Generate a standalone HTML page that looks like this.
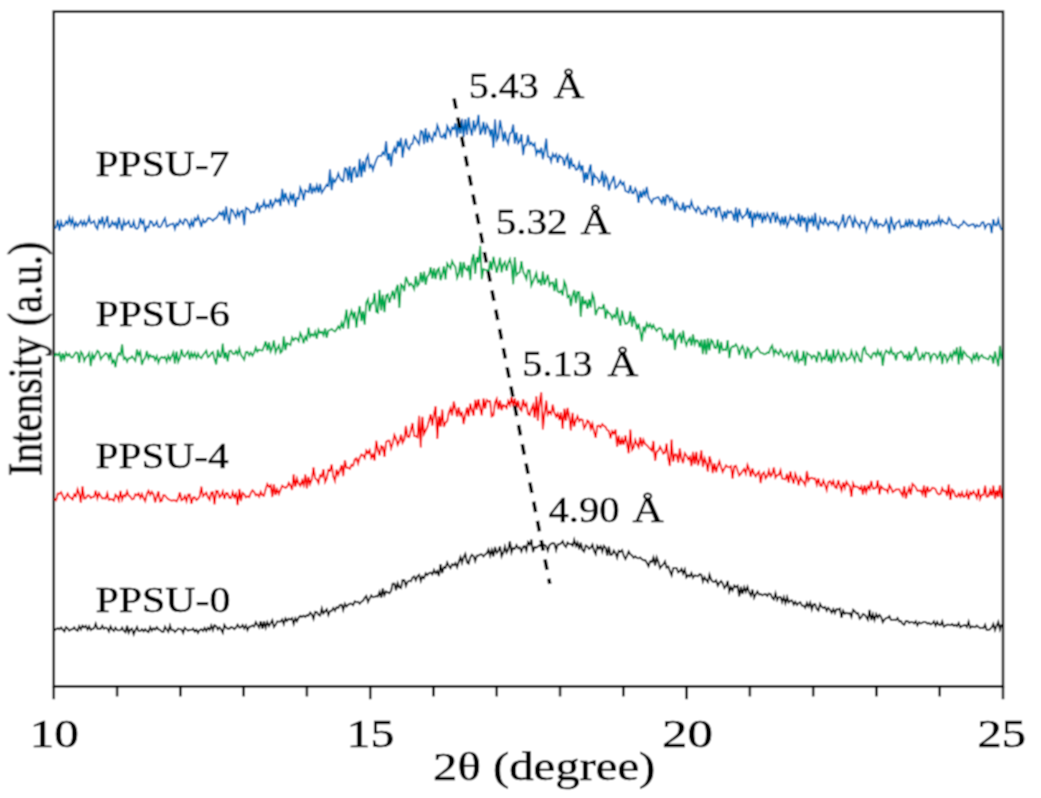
<!DOCTYPE html>
<html><head><meta charset="utf-8"><style>
html,body{margin:0;padding:0;background:#fff;}
svg{display:block;}
text{font-family:"Liberation Serif",serif;font-size:100px;fill:#000;stroke:#000;stroke-width:1.5px;}
</style></head><body>
<svg width="1041" height="798" viewBox="0 0 1041 798">
<defs><filter id="soft" x="0" y="0" width="100%" height="100%"><feConvolveMatrix order="3" kernelMatrix="1 2 1 2 4 2 1 2 1" divisor="16" edgeMode="duplicate"/></filter></defs>
<rect width="1041" height="798" fill="#fff"/>
<g filter="url(#soft)">
<rect width="1041" height="798" fill="#fff"/>
<rect x="53.8" y="11.7" width="949.2" height="674.7" fill="none" stroke="#000" stroke-width="2.5"/>
<line x1="53.80" y1="686.4" x2="53.80" y2="699.2" stroke="#000" stroke-width="2.5"/>
<line x1="117.08" y1="686.4" x2="117.08" y2="696.4" stroke="#000" stroke-width="2.5"/>
<line x1="180.36" y1="686.4" x2="180.36" y2="696.4" stroke="#000" stroke-width="2.5"/>
<line x1="243.64" y1="686.4" x2="243.64" y2="696.4" stroke="#000" stroke-width="2.5"/>
<line x1="306.92" y1="686.4" x2="306.92" y2="696.4" stroke="#000" stroke-width="2.5"/>
<line x1="370.20" y1="686.4" x2="370.20" y2="699.2" stroke="#000" stroke-width="2.5"/>
<line x1="433.48" y1="686.4" x2="433.48" y2="696.4" stroke="#000" stroke-width="2.5"/>
<line x1="496.76" y1="686.4" x2="496.76" y2="696.4" stroke="#000" stroke-width="2.5"/>
<line x1="560.04" y1="686.4" x2="560.04" y2="696.4" stroke="#000" stroke-width="2.5"/>
<line x1="623.32" y1="686.4" x2="623.32" y2="696.4" stroke="#000" stroke-width="2.5"/>
<line x1="686.60" y1="686.4" x2="686.60" y2="699.2" stroke="#000" stroke-width="2.5"/>
<line x1="749.88" y1="686.4" x2="749.88" y2="696.4" stroke="#000" stroke-width="2.5"/>
<line x1="813.16" y1="686.4" x2="813.16" y2="696.4" stroke="#000" stroke-width="2.5"/>
<line x1="876.44" y1="686.4" x2="876.44" y2="696.4" stroke="#000" stroke-width="2.5"/>
<line x1="939.72" y1="686.4" x2="939.72" y2="696.4" stroke="#000" stroke-width="2.5"/>
<line x1="1003.00" y1="686.4" x2="1003.00" y2="699.2" stroke="#000" stroke-width="2.5"/>
<path d="M54.5,630.7 L56.1,629.1 L57.8,628.3 L59.4,629.2 L61.1,627.4 L62.7,629.6 L64.4,631.5 L66.0,627.1 L67.7,628.4 L69.3,630.7 L71.0,629.5 L72.6,629.2 L74.3,627.4 L75.9,629.9 L77.6,630.9 L79.2,626.4 L80.9,629.4 L82.5,625.7 L84.2,627.4 L85.8,625.9 L87.5,629.5 L89.1,626.4 L90.8,630.0 L92.4,628.9 L94.1,628.2 L95.7,623.7 L97.4,628.7 L99.0,628.6 L100.7,628.8 L102.3,625.7 L104.0,628.9 L105.6,627.6 L107.3,628.5 L108.9,631.4 L110.6,626.4 L112.2,629.4 L113.9,630.9 L115.5,627.6 L117.2,630.2 L118.8,630.4 L120.5,630.2 L122.1,627.7 L123.8,630.7 L125.4,632.2 L127.1,625.8 L128.7,632.8 L130.4,629.5 L132.0,628.7 L133.7,634.4 L135.3,630.3 L137.0,627.0 L138.6,631.1 L140.3,631.1 L141.9,629.2 L143.6,631.2 L145.2,629.3 L146.9,631.2 L148.5,632.1 L150.2,627.3 L151.8,630.6 L153.5,628.4 L155.1,629.6 L156.8,627.1 L158.4,629.4 L160.1,629.8 L161.7,631.7 L163.4,631.9 L165.0,626.7 L166.7,629.5 L168.3,631.8 L170.0,625.5 L171.6,630.2 L173.3,629.8 L174.9,632.1 L176.6,630.3 L178.2,628.6 L179.9,629.2 L181.5,629.5 L183.2,632.9 L184.8,627.7 L186.5,629.4 L188.1,630.7 L189.8,629.8 L191.4,630.1 L193.1,628.5 L194.7,631.4 L196.4,629.8 L198.0,632.8 L199.7,630.1 L201.3,629.1 L203.0,630.9 L204.6,628.0 L206.3,631.0 L207.9,627.9 L209.6,629.8 L211.2,625.4 L212.9,630.0 L214.5,625.1 L216.2,626.1 L217.8,629.5 L219.5,627.3 L221.1,629.5 L222.8,632.7 L224.4,624.9 L226.1,627.5 L227.7,628.8 L229.4,628.7 L231.0,627.1 L232.7,627.5 L234.3,629.1 L236.0,627.7 L237.6,624.6 L239.3,627.4 L240.9,627.3 L242.6,625.0 L244.2,628.5 L245.9,625.5 L247.5,630.2 L249.2,626.7 L250.8,626.6 L252.5,625.4 L254.1,626.6 L255.8,622.1 L257.4,624.8 L259.1,627.5 L260.7,621.3 L262.4,628.8 L264.0,621.3 L265.7,627.7 L267.3,622.2 L269.0,626.0 L270.6,623.3 L272.3,620.1 L273.9,627.0 L275.6,624.8 L277.2,621.4 L278.9,621.6 L280.5,621.5 L282.2,619.4 L283.8,624.2 L285.5,618.5 L287.1,620.8 L288.8,618.7 L290.4,619.6 L292.1,618.2 L293.7,624.1 L295.4,618.4 L297.0,621.2 L298.7,617.6 L300.3,615.9 L302.0,616.8 L303.6,615.7 L305.3,616.9 L306.9,615.2 L308.6,615.4 L310.2,612.6 L311.9,614.5 L313.5,618.9 L315.2,611.8 L316.8,612.1 L318.5,614.7 L320.1,615.6 L321.8,608.4 L323.4,613.4 L325.1,611.4 L326.7,609.3 L328.4,615.0 L330.0,610.9 L331.7,610.8 L333.3,608.1 L335.0,610.7 L336.6,607.2 L338.3,608.0 L339.9,605.0 L341.6,604.8 L343.2,610.1 L344.9,603.8 L346.5,606.7 L348.2,604.7 L349.8,603.8 L351.5,603.7 L353.1,605.1 L354.8,601.4 L356.4,602.2 L358.1,601.9 L359.7,603.8 L361.4,601.7 L363.0,600.7 L364.7,597.9 L366.3,596.0 L368.0,601.9 L369.6,598.7 L371.3,595.4 L372.9,597.3 L374.6,596.9 L376.2,596.0 L377.9,596.4 L379.5,592.1 L381.2,597.8 L382.8,588.4 L384.5,595.1 L386.1,591.6 L387.8,592.4 L389.4,593.3 L391.1,590.8 L392.7,583.6 L394.4,583.6 L396.0,590.2 L397.7,583.2 L399.3,587.2 L401.0,588.1 L402.6,580.1 L404.3,580.2 L405.9,585.8 L407.6,581.8 L409.2,580.7 L410.9,581.3 L412.5,577.7 L414.2,576.5 L415.8,580.3 L417.5,576.2 L419.1,574.7 L420.8,581.1 L422.4,576.7 L424.1,578.2 L425.7,573.3 L427.4,575.0 L429.0,573.0 L430.7,572.6 L432.3,574.5 L434.0,569.9 L435.6,573.3 L437.3,571.1 L438.9,576.0 L440.6,564.2 L442.2,573.1 L443.9,567.0 L445.5,567.8 L447.2,562.6 L448.8,566.0 L450.5,568.1 L452.1,564.3 L453.8,565.2 L455.4,563.2 L457.1,567.3 L458.7,562.1 L460.4,557.2 L462.0,562.8 L463.7,557.0 L465.3,553.8 L467.0,562.5 L468.6,563.6 L470.3,557.5 L471.9,554.8 L473.6,556.2 L475.2,561.1 L476.9,555.7 L478.5,555.5 L480.2,554.4 L481.8,554.4 L483.5,556.5 L485.1,554.5 L486.8,553.4 L488.4,549.7 L490.1,555.7 L491.7,550.0 L493.4,556.4 L495.0,547.0 L496.7,552.9 L498.3,551.3 L500.0,546.3 L501.6,556.5 L503.3,552.7 L504.9,546.6 L506.6,552.6 L508.2,549.9 L509.9,541.2 L511.5,552.4 L513.2,548.0 L514.8,548.8 L516.5,545.1 L518.1,548.2 L519.8,547.5 L521.4,551.6 L523.1,546.8 L524.7,546.1 L526.4,550.7 L528.0,542.2 L529.7,544.7 L531.3,539.5 L533.0,552.2 L534.6,547.0 L536.3,547.7 L537.9,546.5 L539.6,545.1 L541.2,546.2 L542.9,544.6 L544.5,545.0 L546.2,546.1 L547.8,550.7 L549.5,545.1 L551.1,543.9 L552.8,543.0 L554.4,543.5 L556.1,550.1 L557.7,544.5 L559.4,544.3 L561.0,543.4 L562.7,541.2 L564.3,545.2 L566.0,547.0 L567.6,542.4 L569.3,544.1 L570.9,544.0 L572.6,545.7 L574.2,539.8 L575.9,545.9 L577.5,542.6 L579.2,549.3 L580.8,542.8 L582.5,550.0 L584.1,551.6 L585.8,545.5 L587.4,546.5 L589.1,548.9 L590.7,547.6 L592.4,544.6 L594.0,550.6 L595.7,554.1 L597.3,546.0 L599.0,548.5 L600.6,546.3 L602.3,551.6 L603.9,545.8 L605.6,547.9 L607.2,555.5 L608.9,546.6 L610.5,554.8 L612.2,554.4 L613.8,550.6 L615.5,553.2 L617.1,557.7 L618.8,550.9 L620.4,552.0 L622.1,550.1 L623.7,555.5 L625.4,559.1 L627.0,555.8 L628.7,551.5 L630.3,554.2 L632.0,555.4 L633.6,557.9 L635.3,556.4 L636.9,557.9 L638.6,558.3 L640.2,557.5 L641.9,559.3 L643.5,560.2 L645.2,560.0 L646.8,562.8 L648.5,566.3 L650.1,561.4 L651.8,561.8 L653.4,557.5 L655.1,565.5 L656.7,557.3 L658.4,561.7 L660.0,568.1 L661.7,565.9 L663.3,564.5 L665.0,561.5 L666.6,567.6 L668.3,566.4 L669.9,571.2 L671.6,575.4 L673.2,568.3 L674.9,568.0 L676.5,568.0 L678.2,572.3 L679.8,571.3 L681.5,568.9 L683.1,573.5 L684.8,569.5 L686.4,577.3 L688.1,575.3 L689.7,576.4 L691.4,573.0 L693.0,577.7 L694.7,575.3 L696.3,575.8 L698.0,576.1 L699.6,574.1 L701.3,574.7 L702.9,581.6 L704.6,577.1 L706.2,579.9 L707.9,582.1 L709.5,574.6 L711.2,579.7 L712.8,581.6 L714.5,582.0 L716.1,580.3 L717.8,585.6 L719.4,582.9 L721.1,581.0 L722.7,583.5 L724.4,588.1 L726.0,586.1 L727.7,581.0 L729.3,591.6 L731.0,587.2 L732.6,590.3 L734.3,585.5 L735.9,587.3 L737.6,585.9 L739.2,596.3 L740.9,586.8 L742.5,593.9 L744.2,587.5 L745.8,591.8 L747.5,586.9 L749.1,592.5 L750.8,595.5 L752.4,589.6 L754.1,597.8 L755.7,594.4 L757.4,591.5 L759.0,594.4 L760.7,594.1 L762.3,595.3 L764.0,594.3 L765.6,594.1 L767.3,595.9 L768.9,593.6 L770.6,594.1 L772.2,597.6 L773.9,599.4 L775.5,593.3 L777.2,599.9 L778.8,597.1 L780.5,597.0 L782.1,602.0 L783.8,597.2 L785.4,603.2 L787.1,597.2 L788.7,602.4 L790.4,600.7 L792.0,600.5 L793.7,604.7 L795.3,601.9 L797.0,604.8 L798.6,603.0 L800.3,602.2 L801.9,605.6 L803.6,605.6 L805.2,607.8 L806.9,603.1 L808.5,606.5 L810.2,602.5 L811.8,609.5 L813.5,604.6 L815.1,604.1 L816.8,609.0 L818.4,610.6 L820.1,604.0 L821.7,606.9 L823.4,608.0 L825.0,607.0 L826.7,610.8 L828.3,607.9 L830.0,609.7 L831.6,612.7 L833.3,609.1 L834.9,613.0 L836.6,609.0 L838.2,609.4 L839.9,608.6 L841.5,617.8 L843.2,610.8 L844.8,613.7 L846.5,612.9 L848.1,613.6 L849.8,613.2 L851.4,617.0 L853.1,609.7 L854.7,611.2 L856.4,613.4 L858.0,613.1 L859.7,618.7 L861.3,617.2 L863.0,613.9 L864.6,614.7 L866.3,617.0 L867.9,619.8 L869.6,610.0 L871.2,620.0 L872.9,614.4 L874.5,620.0 L876.2,614.2 L877.8,617.6 L879.5,614.9 L881.1,616.9 L882.8,622.2 L884.4,619.7 L886.1,618.1 L887.7,617.8 L889.4,616.2 L891.0,620.1 L892.7,620.0 L894.3,619.7 L896.0,620.2 L897.6,618.1 L899.3,621.5 L900.9,621.1 L902.6,623.8 L904.2,624.8 L905.9,621.0 L907.5,620.9 L909.2,622.9 L910.8,622.1 L912.5,622.1 L914.1,623.4 L915.8,621.3 L917.4,625.4 L919.1,622.4 L920.7,623.5 L922.4,622.7 L924.0,622.0 L925.7,622.1 L927.3,623.7 L929.0,622.8 L930.6,624.4 L932.3,623.5 L933.9,621.4 L935.6,625.6 L937.2,622.0 L938.9,624.8 L940.5,625.1 L942.2,621.2 L943.8,626.8 L945.5,625.6 L947.1,624.8 L948.8,624.8 L950.4,625.2 L952.1,624.0 L953.7,625.7 L955.4,624.8 L957.0,626.2 L958.7,623.1 L960.3,627.3 L962.0,626.2 L963.6,625.4 L965.3,625.0 L966.9,627.0 L968.6,621.7 L970.2,627.9 L971.9,626.6 L973.5,626.8 L975.2,627.2 L976.8,625.5 L978.5,626.9 L980.1,628.3 L981.8,627.8 L983.4,628.1 L985.1,624.8 L986.7,630.1 L988.4,630.0 L990.0,629.2 L991.7,627.3 L993.3,623.9 L995.0,630.0 L996.6,625.9 L998.3,621.9 L999.9,629.4 L1001.6,624.3" fill="none" stroke="#000000" stroke-width="1.9" stroke-linejoin="miter" stroke-miterlimit="4"/>
<path d="M54.5,498.6 L56.1,500.2 L57.8,493.7 L59.4,494.0 L61.1,492.2 L62.7,495.8 L64.4,499.7 L66.0,496.8 L67.7,493.5 L69.3,496.8 L71.0,498.0 L72.6,499.5 L74.3,494.4 L75.9,496.2 L77.6,489.3 L79.2,493.6 L80.9,502.9 L82.5,486.4 L84.2,498.4 L85.8,498.3 L87.5,495.4 L89.1,495.4 L90.8,498.1 L92.4,496.9 L94.1,496.9 L95.7,490.7 L97.4,498.4 L99.0,493.3 L100.7,496.0 L102.3,498.4 L104.0,498.1 L105.6,498.6 L107.3,493.2 L108.9,499.9 L110.6,499.0 L112.2,499.4 L113.9,500.7 L115.5,494.6 L117.2,496.5 L118.8,500.4 L120.5,491.0 L122.1,499.6 L123.8,495.3 L125.4,496.4 L127.1,491.3 L128.7,495.6 L130.4,496.6 L132.0,499.4 L133.7,498.7 L135.3,494.3 L137.0,495.2 L138.6,493.3 L140.3,497.9 L141.9,494.1 L143.6,498.3 L145.2,501.1 L146.9,493.9 L148.5,490.8 L150.2,494.8 L151.8,491.9 L153.5,494.4 L155.1,502.4 L156.8,496.3 L158.4,491.4 L160.1,501.4 L161.7,500.9 L163.4,495.3 L165.0,495.4 L166.7,497.7 L168.3,499.2 L170.0,500.0 L171.6,500.8 L173.3,500.2 L174.9,500.4 L176.6,501.4 L178.2,498.3 L179.9,492.2 L181.5,500.2 L183.2,499.2 L184.8,496.2 L186.5,501.3 L188.1,494.7 L189.8,494.5 L191.4,503.8 L193.1,497.5 L194.7,497.3 L196.4,500.0 L198.0,498.8 L199.7,496.4 L201.3,486.6 L203.0,496.3 L204.6,494.7 L206.3,492.6 L207.9,497.4 L209.6,499.7 L211.2,492.7 L212.9,492.4 L214.5,504.5 L216.2,490.8 L217.8,491.0 L219.5,497.2 L221.1,495.6 L222.8,491.4 L224.4,498.9 L226.1,493.0 L227.7,493.3 L229.4,497.9 L231.0,498.2 L232.7,492.1 L234.3,497.1 L236.0,494.0 L237.6,505.1 L239.3,489.0 L240.9,501.0 L242.6,493.0 L244.2,494.2 L245.9,497.3 L247.5,496.3 L249.2,497.1 L250.8,493.0 L252.5,490.2 L254.1,491.8 L255.8,495.3 L257.4,494.2 L259.1,496.6 L260.7,491.7 L262.4,495.2 L264.0,495.7 L265.7,489.0 L267.3,484.0 L269.0,487.0 L270.6,485.3 L272.3,497.0 L273.9,484.2 L275.6,494.9 L277.2,489.6 L278.9,493.9 L280.5,489.9 L282.2,485.7 L283.8,487.0 L285.5,487.8 L287.1,486.8 L288.8,482.9 L290.4,485.5 L292.1,489.8 L293.7,474.3 L295.4,486.6 L297.0,478.7 L298.7,483.8 L300.3,485.8 L302.0,480.7 L303.6,485.0 L305.3,474.5 L306.9,488.4 L308.6,477.0 L310.2,483.7 L311.9,479.3 L313.5,467.5 L315.2,478.5 L316.8,479.5 L318.5,483.1 L320.1,475.4 L321.8,476.5 L323.4,469.1 L325.1,482.0 L326.7,478.6 L328.4,470.0 L330.0,470.8 L331.7,464.5 L333.3,476.6 L335.0,481.0 L336.6,469.7 L338.3,474.8 L339.9,470.2 L341.6,465.1 L343.2,476.2 L344.9,460.2 L346.5,467.8 L348.2,467.8 L349.8,468.8 L351.5,464.9 L353.1,465.7 L354.8,459.4 L356.4,458.2 L358.1,463.4 L359.7,457.8 L361.4,454.5 L363.0,455.2 L364.7,458.0 L366.3,450.6 L368.0,453.1 L369.6,450.2 L371.3,457.7 L372.9,454.7 L374.6,460.5 L376.2,440.8 L377.9,449.5 L379.5,455.3 L381.2,446.1 L382.8,446.8 L384.5,456.8 L386.1,442.1 L387.8,440.8 L389.4,440.7 L391.1,448.2 L392.7,443.3 L394.4,435.0 L396.0,438.4 L397.7,445.0 L399.3,441.5 L401.0,434.8 L402.6,442.7 L404.3,439.7 L405.9,425.8 L407.6,436.8 L409.2,437.2 L410.9,429.7 L412.5,423.0 L414.2,435.9 L415.8,436.2 L417.5,437.3 L419.1,415.7 L420.8,447.4 L422.4,416.8 L424.1,433.9 L425.7,430.6 L427.4,426.9 L429.0,420.4 L430.7,414.3 L432.3,425.7 L434.0,413.8 L435.6,406.2 L437.3,438.9 L438.9,416.1 L440.6,426.6 L442.2,409.5 L443.9,426.8 L445.5,422.7 L447.2,421.3 L448.8,412.5 L450.5,408.3 L452.1,415.5 L453.8,401.5 L455.4,408.6 L457.1,416.8 L458.7,407.3 L460.4,415.1 L462.0,413.1 L463.7,424.0 L465.3,415.0 L467.0,407.4 L468.6,416.3 L470.3,403.7 L471.9,410.1 L473.6,415.7 L475.2,399.9 L476.9,409.5 L478.5,399.1 L480.2,408.7 L481.8,415.3 L483.5,398.5 L485.1,408.7 L486.8,400.0 L488.4,401.5 L490.1,401.1 L491.7,416.4 L493.4,415.5 L495.0,402.5 L496.7,399.0 L498.3,409.2 L500.0,400.3 L501.6,410.2 L503.3,405.0 L504.9,405.8 L506.6,408.0 L508.2,401.1 L509.9,404.9 L511.5,397.2 L513.2,406.4 L514.8,398.2 L516.5,407.7 L518.1,400.8 L519.8,408.9 L521.4,410.6 L523.1,399.3 L524.7,406.3 L526.4,403.6 L528.0,414.1 L529.7,415.0 L531.3,409.2 L533.0,405.1 L534.6,417.7 L536.3,396.2 L537.9,421.0 L539.6,401.9 L541.2,392.4 L542.9,429.4 L544.5,413.6 L546.2,400.7 L547.8,414.6 L549.5,411.8 L551.1,414.0 L552.8,404.7 L554.4,412.6 L556.1,416.5 L557.7,413.5 L559.4,420.1 L561.0,412.1 L562.7,429.0 L564.3,408.7 L566.0,420.8 L567.6,407.9 L569.3,416.8 L570.9,430.4 L572.6,412.9 L574.2,426.5 L575.9,420.3 L577.5,416.2 L579.2,421.1 L580.8,419.3 L582.5,419.7 L584.1,428.2 L585.8,425.7 L587.4,420.5 L589.1,421.7 L590.7,428.7 L592.4,423.7 L594.0,431.5 L595.7,437.8 L597.3,426.0 L599.0,425.6 L600.6,427.4 L602.3,424.1 L603.9,425.9 L605.6,427.0 L607.2,430.3 L608.9,430.7 L610.5,438.2 L612.2,431.2 L613.8,433.5 L615.5,429.6 L617.1,446.8 L618.8,435.7 L620.4,444.9 L622.1,439.2 L623.7,444.7 L625.4,435.3 L627.0,444.0 L628.7,453.3 L630.3,429.6 L632.0,449.8 L633.6,447.6 L635.3,440.1 L636.9,444.3 L638.6,447.3 L640.2,437.2 L641.9,446.6 L643.5,439.9 L645.2,444.0 L646.8,445.2 L648.5,447.1 L650.1,448.9 L651.8,450.7 L653.4,441.0 L655.1,460.9 L656.7,451.6 L658.4,450.5 L660.0,446.7 L661.7,449.9 L663.3,453.6 L665.0,452.7 L666.6,443.7 L668.3,458.5 L669.9,466.0 L671.6,439.6 L673.2,461.6 L674.9,454.5 L676.5,454.4 L678.2,462.6 L679.8,448.4 L681.5,458.5 L683.1,463.1 L684.8,453.2 L686.4,455.4 L688.1,459.1 L689.7,457.0 L691.4,466.2 L693.0,451.9 L694.7,464.2 L696.3,451.8 L698.0,465.3 L699.6,460.0 L701.3,450.3 L702.9,467.0 L704.6,458.1 L706.2,462.3 L707.9,471.6 L709.5,456.3 L711.2,461.9 L712.8,473.0 L714.5,463.3 L716.1,472.2 L717.8,465.5 L719.4,461.3 L721.1,467.4 L722.7,472.0 L724.4,468.6 L726.0,465.4 L727.7,467.2 L729.3,467.3 L731.0,466.2 L732.6,478.7 L734.3,466.4 L735.9,465.8 L737.6,470.7 L739.2,475.5 L740.9,473.6 L742.5,471.1 L744.2,469.0 L745.8,473.5 L747.5,464.9 L749.1,469.1 L750.8,476.9 L752.4,468.5 L754.1,473.8 L755.7,476.3 L757.4,473.2 L759.0,471.5 L760.7,483.0 L762.3,474.2 L764.0,472.4 L765.6,478.4 L767.3,476.0 L768.9,470.4 L770.6,476.2 L772.2,474.2 L773.9,467.4 L775.5,477.6 L777.2,475.1 L778.8,474.8 L780.5,470.3 L782.1,478.5 L783.8,478.9 L785.4,479.3 L787.1,473.9 L788.7,482.7 L790.4,471.4 L792.0,478.5 L793.7,483.5 L795.3,473.9 L797.0,478.0 L798.6,485.2 L800.3,477.4 L801.9,480.1 L803.6,482.2 L805.2,485.0 L806.9,471.0 L808.5,480.6 L810.2,478.0 L811.8,477.7 L813.5,478.8 L815.1,478.6 L816.8,484.7 L818.4,478.5 L820.1,485.4 L821.7,485.9 L823.4,480.5 L825.0,484.8 L826.7,490.1 L828.3,482.3 L830.0,481.1 L831.6,484.6 L833.3,480.8 L834.9,487.1 L836.6,488.1 L838.2,480.1 L839.9,486.0 L841.5,490.5 L843.2,482.5 L844.8,488.0 L846.5,481.7 L848.1,484.5 L849.8,486.4 L851.4,496.8 L853.1,483.4 L854.7,486.8 L856.4,486.4 L858.0,487.1 L859.7,489.3 L861.3,486.5 L863.0,494.7 L864.6,485.3 L866.3,492.2 L867.9,486.4 L869.6,489.0 L871.2,480.9 L872.9,488.6 L874.5,488.5 L876.2,487.6 L877.8,480.3 L879.5,494.4 L881.1,486.4 L882.8,488.1 L884.4,489.5 L886.1,489.6 L887.7,492.2 L889.4,485.1 L891.0,487.7 L892.7,492.3 L894.3,491.0 L896.0,489.5 L897.6,489.4 L899.3,489.4 L900.9,492.8 L902.6,495.7 L904.2,486.2 L905.9,498.5 L907.5,492.2 L909.2,487.8 L910.8,494.5 L912.5,483.9 L914.1,485.5 L915.8,487.5 L917.4,490.8 L919.1,490.8 L920.7,490.6 L922.4,494.2 L924.0,485.3 L925.7,497.6 L927.3,486.6 L929.0,491.4 L930.6,490.6 L932.3,487.8 L933.9,488.0 L935.6,489.3 L937.2,493.1 L938.9,494.4 L940.5,493.9 L942.2,488.3 L943.8,491.4 L945.5,490.7 L947.1,496.0 L948.8,484.5 L950.4,499.8 L952.1,489.6 L953.7,491.0 L955.4,496.1 L957.0,496.9 L958.7,493.6 L960.3,496.7 L962.0,492.4 L963.6,497.0 L965.3,496.2 L966.9,491.7 L968.6,499.3 L970.2,492.3 L971.9,494.3 L973.5,491.2 L975.2,494.4 L976.8,497.8 L978.5,489.0 L980.1,498.9 L981.8,494.9 L983.4,495.0 L985.1,485.7 L986.7,496.6 L988.4,496.4 L990.0,490.5 L991.7,495.7 L993.3,485.6 L995.0,499.0 L996.6,490.2 L998.3,496.9 L999.9,485.2 L1001.6,498.5" fill="none" stroke="#f80000" stroke-width="1.9" stroke-linejoin="miter" stroke-miterlimit="4"/>
<path d="M54.5,356.5 L56.1,353.7 L57.8,355.3 L59.4,353.1 L61.1,361.8 L62.7,353.2 L64.4,358.9 L66.0,352.9 L67.7,355.8 L69.3,353.9 L71.0,357.3 L72.6,357.5 L74.3,354.7 L75.9,352.4 L77.6,352.9 L79.2,362.9 L80.9,351.8 L82.5,353.9 L84.2,360.9 L85.8,357.3 L87.5,355.9 L89.1,353.0 L90.8,366.1 L92.4,354.3 L94.1,358.3 L95.7,354.7 L97.4,350.8 L99.0,352.1 L100.7,359.3 L102.3,356.9 L104.0,355.4 L105.6,353.2 L107.3,354.0 L108.9,358.6 L110.6,352.3 L112.2,362.7 L113.9,360.5 L115.5,367.2 L117.2,356.8 L118.8,353.3 L120.5,354.8 L122.1,344.4 L123.8,359.1 L125.4,357.6 L127.1,361.7 L128.7,358.2 L130.4,358.3 L132.0,356.3 L133.7,358.5 L135.3,360.8 L137.0,349.5 L138.6,355.4 L140.3,351.8 L141.9,364.9 L143.6,359.9 L145.2,357.8 L146.9,351.0 L148.5,358.4 L150.2,355.0 L151.8,357.0 L153.5,356.1 L155.1,360.1 L156.8,356.2 L158.4,362.7 L160.1,358.4 L161.7,357.0 L163.4,358.1 L165.0,356.8 L166.7,361.6 L168.3,355.8 L170.0,359.8 L171.6,356.3 L173.3,352.6 L174.9,363.7 L176.6,351.7 L178.2,361.8 L179.9,358.1 L181.5,349.4 L183.2,355.7 L184.8,356.7 L186.5,353.5 L188.1,351.5 L189.8,359.6 L191.4,352.9 L193.1,356.8 L194.7,353.2 L196.4,358.2 L198.0,353.6 L199.7,357.1 L201.3,358.3 L203.0,355.0 L204.6,353.1 L206.3,350.8 L207.9,357.3 L209.6,356.2 L211.2,353.2 L212.9,352.1 L214.5,358.9 L216.2,364.5 L217.8,349.8 L219.5,356.8 L221.1,356.4 L222.8,343.6 L224.4,358.5 L226.1,352.2 L227.7,361.3 L229.4,350.9 L231.0,350.5 L232.7,353.7 L234.3,354.1 L236.0,351.0 L237.6,354.3 L239.3,348.6 L240.9,354.9 L242.6,357.3 L244.2,359.8 L245.9,352.0 L247.5,351.7 L249.2,355.3 L250.8,352.6 L252.5,355.8 L254.1,352.6 L255.8,347.6 L257.4,351.7 L259.1,349.7 L260.7,350.4 L262.4,350.5 L264.0,346.4 L265.7,341.3 L267.3,350.3 L269.0,342.4 L270.6,351.6 L272.3,347.9 L273.9,340.4 L275.6,352.5 L277.2,348.7 L278.9,345.5 L280.5,352.8 L282.2,351.0 L283.8,336.4 L285.5,350.1 L287.1,343.3 L288.8,343.8 L290.4,345.1 L292.1,337.5 L293.7,340.3 L295.4,338.0 L297.0,338.7 L298.7,341.2 L300.3,333.1 L302.0,336.5 L303.6,343.3 L305.3,336.9 L306.9,339.5 L308.6,327.7 L310.2,336.6 L311.9,334.2 L313.5,335.9 L315.2,331.9 L316.8,338.8 L318.5,329.7 L320.1,332.9 L321.8,331.9 L323.4,335.2 L325.1,328.5 L326.7,337.9 L328.4,330.7 L330.0,330.0 L331.7,328.9 L333.3,330.6 L335.0,331.5 L336.6,329.4 L338.3,326.3 L339.9,328.8 L341.6,322.7 L343.2,328.5 L344.9,319.4 L346.5,309.6 L348.2,328.9 L349.8,315.9 L351.5,310.9 L353.1,317.2 L354.8,311.9 L356.4,327.7 L358.1,314.6 L359.7,306.0 L361.4,321.1 L363.0,311.4 L364.7,324.6 L366.3,302.6 L368.0,299.4 L369.6,311.3 L371.3,303.5 L372.9,303.6 L374.6,293.0 L376.2,311.6 L377.9,312.6 L379.5,289.9 L381.2,310.5 L382.8,294.8 L384.5,312.2 L386.1,295.5 L387.8,294.4 L389.4,302.7 L391.1,296.4 L392.7,290.8 L394.4,299.4 L396.0,289.4 L397.7,284.7 L399.3,307.9 L401.0,284.5 L402.6,285.8 L404.3,291.1 L405.9,276.9 L407.6,281.2 L409.2,285.4 L410.9,283.5 L412.5,285.5 L414.2,289.1 L415.8,276.1 L417.5,285.8 L419.1,283.8 L420.8,272.1 L422.4,282.4 L424.1,271.6 L425.7,284.9 L427.4,276.4 L429.0,274.5 L430.7,267.1 L432.3,278.6 L434.0,268.2 L435.6,279.0 L437.3,270.3 L438.9,268.5 L440.6,280.1 L442.2,275.0 L443.9,266.3 L445.5,279.5 L447.2,263.5 L448.8,266.1 L450.5,268.5 L452.1,261.1 L453.8,264.7 L455.4,266.8 L457.1,277.9 L458.7,273.7 L460.4,261.8 L462.0,277.5 L463.7,262.0 L465.3,268.2 L467.0,270.1 L468.6,265.2 L470.3,280.1 L471.9,259.8 L473.6,254.1 L475.2,274.0 L476.9,257.0 L478.5,262.7 L480.2,245.8 L481.8,279.1 L483.5,269.2 L485.1,269.9 L486.8,269.9 L488.4,274.1 L490.1,260.9 L491.7,270.1 L493.4,256.8 L495.0,264.3 L496.7,272.7 L498.3,266.6 L500.0,257.6 L501.6,272.3 L503.3,264.6 L504.9,262.0 L506.6,270.9 L508.2,263.3 L509.9,259.2 L511.5,265.7 L513.2,284.3 L514.8,257.1 L516.5,275.1 L518.1,273.2 L519.8,272.2 L521.4,261.1 L523.1,271.6 L524.7,274.9 L526.4,279.1 L528.0,270.2 L529.7,270.3 L531.3,285.6 L533.0,281.7 L534.6,277.6 L536.3,273.0 L537.9,282.1 L539.6,280.2 L541.2,285.6 L542.9,271.3 L544.5,284.8 L546.2,279.9 L547.8,274.7 L549.5,285.5 L551.1,282.7 L552.8,282.5 L554.4,291.2 L556.1,278.4 L557.7,291.5 L559.4,292.5 L561.0,290.7 L562.7,295.3 L564.3,281.7 L566.0,285.6 L567.6,297.2 L569.3,295.7 L570.9,306.0 L572.6,295.4 L574.2,290.1 L575.9,303.2 L577.5,292.1 L579.2,292.2 L580.8,316.8 L582.5,296.2 L584.1,303.3 L585.8,301.1 L587.4,308.9 L589.1,299.1 L590.7,307.3 L592.4,294.3 L594.0,298.3 L595.7,315.1 L597.3,310.3 L599.0,307.5 L600.6,308.2 L602.3,308.3 L603.9,304.1 L605.6,318.7 L607.2,310.7 L608.9,313.1 L610.5,314.2 L612.2,318.7 L613.8,315.1 L615.5,317.2 L617.1,307.1 L618.8,319.0 L620.4,325.9 L622.1,310.6 L623.7,318.4 L625.4,323.8 L627.0,323.5 L628.7,321.7 L630.3,311.3 L632.0,326.9 L633.6,316.0 L635.3,321.5 L636.9,329.5 L638.6,323.8 L640.2,331.4 L641.9,341.3 L643.5,326.5 L645.2,330.7 L646.8,323.4 L648.5,326.9 L650.1,324.2 L651.8,328.3 L653.4,325.0 L655.1,328.9 L656.7,331.1 L658.4,328.5 L660.0,328.1 L661.7,329.3 L663.3,338.7 L665.0,335.2 L666.6,340.4 L668.3,338.9 L669.9,333.0 L671.6,340.1 L673.2,328.8 L674.9,350.0 L676.5,339.8 L678.2,336.1 L679.8,334.0 L681.5,343.4 L683.1,330.7 L684.8,340.5 L686.4,345.5 L688.1,340.2 L689.7,338.2 L691.4,345.6 L693.0,334.2 L694.7,344.2 L696.3,340.2 L698.0,340.8 L699.6,347.3 L701.3,339.7 L702.9,354.1 L704.6,339.3 L706.2,354.5 L707.9,338.3 L709.5,350.4 L711.2,339.9 L712.8,341.4 L714.5,347.8 L716.1,348.1 L717.8,339.5 L719.4,353.6 L721.1,342.0 L722.7,350.2 L724.4,349.6 L726.0,350.0 L727.7,340.1 L729.3,358.1 L731.0,348.1 L732.6,346.3 L734.3,346.5 L735.9,344.2 L737.6,347.1 L739.2,355.0 L740.9,348.5 L742.5,345.9 L744.2,350.4 L745.8,358.8 L747.5,347.9 L749.1,349.7 L750.8,358.4 L752.4,352.3 L754.1,351.5 L755.7,350.1 L757.4,347.4 L759.0,350.5 L760.7,352.9 L762.3,352.9 L764.0,354.3 L765.6,354.0 L767.3,352.6 L768.9,352.9 L770.6,348.0 L772.2,345.5 L773.9,354.6 L775.5,349.9 L777.2,352.7 L778.8,354.4 L780.5,349.8 L782.1,352.1 L783.8,356.8 L785.4,355.4 L787.1,352.9 L788.7,358.4 L790.4,353.5 L792.0,351.6 L793.7,357.0 L795.3,362.2 L797.0,349.8 L798.6,361.9 L800.3,359.5 L801.9,360.2 L803.6,350.9 L805.2,365.6 L806.9,352.7 L808.5,354.3 L810.2,355.1 L811.8,358.4 L813.5,355.4 L815.1,356.1 L816.8,362.3 L818.4,352.3 L820.1,353.3 L821.7,360.7 L823.4,357.5 L825.0,358.9 L826.7,349.5 L828.3,361.4 L830.0,356.6 L831.6,363.3 L833.3,349.4 L834.9,359.6 L836.6,355.8 L838.2,351.1 L839.9,355.8 L841.5,362.2 L843.2,353.0 L844.8,354.3 L846.5,360.3 L848.1,358.6 L849.8,358.1 L851.4,351.2 L853.1,356.7 L854.7,360.8 L856.4,352.2 L858.0,354.8 L859.7,360.8 L861.3,361.7 L863.0,349.2 L864.6,347.2 L866.3,353.5 L867.9,354.3 L869.6,356.3 L871.2,358.3 L872.9,353.5 L874.5,352.7 L876.2,355.9 L877.8,350.5 L879.5,355.0 L881.1,352.5 L882.8,365.8 L884.4,354.4 L886.1,350.5 L887.7,352.0 L889.4,353.8 L891.0,348.8 L892.7,354.1 L894.3,353.3 L896.0,360.4 L897.6,352.9 L899.3,352.9 L900.9,351.3 L902.6,353.1 L904.2,357.6 L905.9,355.5 L907.5,361.1 L909.2,351.7 L910.8,360.8 L912.5,354.6 L914.1,354.3 L915.8,346.7 L917.4,352.6 L919.1,360.0 L920.7,359.3 L922.4,354.0 L924.0,358.2 L925.7,352.5 L927.3,353.3 L929.0,353.1 L930.6,360.6 L932.3,355.2 L933.9,353.6 L935.6,354.6 L937.2,358.7 L938.9,355.8 L940.5,351.0 L942.2,364.1 L943.8,354.2 L945.5,355.1 L947.1,361.6 L948.8,358.4 L950.4,353.8 L952.1,358.6 L953.7,351.4 L955.4,354.6 L957.0,347.3 L958.7,364.5 L960.3,346.4 L962.0,360.2 L963.6,351.3 L965.3,353.2 L966.9,356.0 L968.6,356.8 L970.2,358.0 L971.9,362.0 L973.5,355.0 L975.2,358.9 L976.8,352.3 L978.5,359.8 L980.1,356.5 L981.8,354.9 L983.4,357.6 L985.1,357.6 L986.7,358.9 L988.4,359.4 L990.0,355.6 L991.7,356.8 L993.3,363.5 L995.0,351.5 L996.6,358.9 L998.3,366.3 L999.9,345.9 L1001.6,359.5" fill="none" stroke="#00a84c" stroke-width="1.9" stroke-linejoin="miter" stroke-miterlimit="4"/>
<path d="M54.5,228.4 L56.1,227.5 L57.8,219.9 L59.4,230.5 L61.1,221.9 L62.7,226.5 L64.4,225.6 L66.0,221.5 L67.7,223.9 L69.3,217.8 L71.0,224.1 L72.6,219.0 L74.3,227.1 L75.9,222.6 L77.6,226.1 L79.2,223.5 L80.9,220.8 L82.5,225.3 L84.2,221.2 L85.8,225.7 L87.5,222.5 L89.1,217.4 L90.8,223.3 L92.4,222.5 L94.1,220.9 L95.7,226.6 L97.4,229.0 L99.0,220.6 L100.7,223.2 L102.3,216.7 L104.0,226.2 L105.6,222.0 L107.3,216.0 L108.9,227.3 L110.6,226.3 L112.2,221.7 L113.9,224.8 L115.5,222.6 L117.2,229.1 L118.8,217.3 L120.5,224.4 L122.1,230.8 L123.8,220.8 L125.4,225.1 L127.1,223.4 L128.7,221.1 L130.4,227.1 L132.0,227.0 L133.7,221.6 L135.3,228.1 L137.0,228.9 L138.6,227.0 L140.3,218.0 L141.9,223.5 L143.6,220.7 L145.2,232.0 L146.9,226.6 L148.5,227.4 L150.2,221.1 L151.8,221.8 L153.5,225.9 L155.1,225.0 L156.8,221.6 L158.4,227.0 L160.1,227.3 L161.7,224.9 L163.4,221.0 L165.0,218.4 L166.7,226.6 L168.3,225.9 L170.0,224.4 L171.6,224.2 L173.3,223.5 L174.9,228.9 L176.6,223.5 L178.2,225.0 L179.9,219.9 L181.5,222.3 L183.2,224.1 L184.8,219.2 L186.5,219.8 L188.1,222.8 L189.8,227.1 L191.4,221.0 L193.1,227.0 L194.7,218.5 L196.4,220.5 L198.0,216.3 L199.7,220.9 L201.3,227.0 L203.0,220.0 L204.6,222.6 L206.3,221.3 L207.9,218.2 L209.6,218.1 L211.2,219.2 L212.9,220.9 L214.5,218.9 L216.2,218.2 L217.8,215.8 L219.5,212.4 L221.1,214.8 L222.8,211.9 L224.4,220.5 L226.1,206.4 L227.7,217.4 L229.4,224.1 L231.0,209.3 L232.7,210.3 L234.3,214.2 L236.0,217.5 L237.6,210.7 L239.3,215.9 L240.9,211.4 L242.6,210.7 L244.2,225.2 L245.9,207.7 L247.5,208.6 L249.2,209.8 L250.8,212.9 L252.5,211.5 L254.1,212.6 L255.8,209.3 L257.4,202.6 L259.1,212.3 L260.7,206.0 L262.4,206.6 L264.0,201.4 L265.7,207.8 L267.3,204.9 L269.0,207.1 L270.6,199.4 L272.3,207.0 L273.9,203.9 L275.6,199.1 L277.2,201.7 L278.9,199.6 L280.5,206.1 L282.2,188.8 L283.8,201.7 L285.5,193.0 L287.1,199.3 L288.8,202.9 L290.4,194.4 L292.1,199.4 L293.7,193.6 L295.4,207.0 L297.0,198.0 L298.7,198.8 L300.3,187.8 L302.0,191.6 L303.6,200.4 L305.3,190.3 L306.9,191.3 L308.6,192.1 L310.2,183.1 L311.9,193.9 L313.5,187.8 L315.2,191.1 L316.8,185.5 L318.5,192.6 L320.1,184.0 L321.8,192.7 L323.4,190.3 L325.1,187.4 L326.7,184.7 L328.4,185.9 L330.0,169.3 L331.7,190.1 L333.3,179.2 L335.0,181.9 L336.6,178.7 L338.3,173.4 L339.9,178.0 L341.6,180.4 L343.2,181.2 L344.9,168.2 L346.5,168.7 L348.2,180.4 L349.8,166.1 L351.5,182.8 L353.1,168.5 L354.8,167.5 L356.4,176.7 L358.1,176.2 L359.7,158.8 L361.4,177.2 L363.0,161.2 L364.7,172.2 L366.3,159.0 L368.0,155.4 L369.6,167.1 L371.3,165.0 L372.9,170.0 L374.6,164.6 L376.2,160.1 L377.9,156.5 L379.5,155.7 L381.2,156.2 L382.8,152.3 L384.5,154.4 L386.1,141.1 L387.8,160.2 L389.4,153.2 L391.1,166.5 L392.7,152.4 L394.4,147.9 L396.0,153.6 L397.7,141.0 L399.3,147.0 L401.0,137.8 L402.6,157.6 L404.3,146.4 L405.9,138.7 L407.6,147.6 L409.2,149.4 L410.9,144.3 L412.5,143.8 L414.2,136.1 L415.8,138.5 L417.5,141.8 L419.1,144.1 L420.8,131.0 L422.4,131.7 L424.1,144.2 L425.7,128.0 L427.4,142.5 L429.0,133.9 L430.7,138.1 L432.3,141.0 L434.0,132.8 L435.6,135.2 L437.3,125.2 L438.9,129.3 L440.6,136.7 L442.2,137.5 L443.9,134.4 L445.5,139.1 L447.2,126.1 L448.8,129.2 L450.5,134.6 L452.1,127.6 L453.8,129.1 L455.4,123.2 L457.1,137.3 L458.7,120.9 L460.4,133.6 L462.0,118.9 L463.7,137.0 L465.3,119.1 L467.0,135.0 L468.6,117.4 L470.3,128.8 L471.9,135.6 L473.6,120.4 L475.2,129.1 L476.9,124.4 L478.5,114.9 L480.2,134.9 L481.8,131.0 L483.5,121.8 L485.1,134.5 L486.8,124.6 L488.4,127.5 L490.1,134.2 L491.7,129.0 L493.4,147.7 L495.0,119.4 L496.7,140.2 L498.3,137.4 L500.0,120.0 L501.6,128.5 L503.3,141.4 L504.9,131.7 L506.6,139.9 L508.2,143.6 L509.9,133.4 L511.5,132.8 L513.2,124.5 L514.8,143.7 L516.5,132.5 L518.1,143.4 L519.8,141.4 L521.4,134.2 L523.1,155.2 L524.7,145.4 L526.4,145.1 L528.0,135.0 L529.7,144.4 L531.3,142.6 L533.0,145.6 L534.6,143.6 L536.3,154.3 L537.9,150.3 L539.6,152.5 L541.2,147.7 L542.9,159.2 L544.5,150.9 L546.2,138.6 L547.8,156.7 L549.5,156.8 L551.1,161.7 L552.8,153.9 L554.4,156.9 L556.1,154.3 L557.7,162.7 L559.4,155.3 L561.0,156.9 L562.7,158.1 L564.3,165.8 L566.0,158.1 L567.6,155.1 L569.3,169.0 L570.9,157.8 L572.6,165.9 L574.2,164.9 L575.9,169.7 L577.5,169.2 L579.2,163.2 L580.8,169.8 L582.5,165.3 L584.1,182.9 L585.8,172.2 L587.4,179.7 L589.1,170.0 L590.7,164.5 L592.4,185.8 L594.0,174.3 L595.7,177.2 L597.3,178.0 L599.0,182.3 L600.6,180.3 L602.3,170.9 L603.9,187.0 L605.6,175.5 L607.2,178.5 L608.9,190.4 L610.5,184.1 L612.2,180.4 L613.8,176.0 L615.5,188.1 L617.1,186.7 L618.8,184.0 L620.4,180.7 L622.1,184.5 L623.7,182.6 L625.4,190.8 L627.0,191.7 L628.7,192.6 L630.3,185.3 L632.0,193.2 L633.6,193.3 L635.3,188.6 L636.9,192.1 L638.6,202.8 L640.2,191.0 L641.9,197.8 L643.5,191.0 L645.2,194.8 L646.8,187.0 L648.5,197.6 L650.1,200.1 L651.8,202.8 L653.4,198.6 L655.1,198.6 L656.7,197.6 L658.4,197.2 L660.0,200.1 L661.7,203.1 L663.3,196.1 L665.0,205.5 L666.6,195.3 L668.3,195.8 L669.9,201.3 L671.6,198.2 L673.2,200.6 L674.9,210.4 L676.5,202.6 L678.2,205.8 L679.8,209.3 L681.5,209.5 L683.1,202.5 L684.8,212.2 L686.4,206.2 L688.1,206.1 L689.7,208.2 L691.4,201.4 L693.0,207.1 L694.7,209.4 L696.3,211.9 L698.0,207.0 L699.6,208.9 L701.3,213.8 L702.9,214.1 L704.6,210.6 L706.2,213.9 L707.9,206.6 L709.5,208.0 L711.2,211.4 L712.8,208.2 L714.5,208.3 L716.1,217.7 L717.8,208.1 L719.4,207.1 L721.1,214.5 L722.7,219.1 L724.4,211.1 L726.0,218.8 L727.7,210.8 L729.3,213.0 L731.0,211.3 L732.6,214.0 L734.3,220.8 L735.9,207.3 L737.6,222.3 L739.2,208.8 L740.9,214.8 L742.5,218.3 L744.2,215.8 L745.8,214.6 L747.5,208.0 L749.1,218.7 L750.8,210.8 L752.4,227.4 L754.1,212.7 L755.7,218.3 L757.4,213.1 L759.0,217.8 L760.7,213.0 L762.3,223.0 L764.0,215.0 L765.6,219.5 L767.3,213.6 L768.9,216.6 L770.6,223.3 L772.2,213.3 L773.9,212.9 L775.5,222.5 L777.2,214.7 L778.8,219.6 L780.5,224.0 L782.1,216.7 L783.8,225.0 L785.4,216.0 L787.1,226.3 L788.7,222.8 L790.4,216.1 L792.0,219.9 L793.7,217.9 L795.3,221.8 L797.0,223.7 L798.6,213.7 L800.3,226.8 L801.9,215.4 L803.6,221.3 L805.2,217.3 L806.9,232.2 L808.5,218.2 L810.2,222.0 L811.8,217.7 L813.5,226.4 L815.1,212.8 L816.8,225.7 L818.4,230.2 L820.1,218.5 L821.7,222.5 L823.4,224.3 L825.0,217.3 L826.7,223.2 L828.3,225.5 L830.0,221.5 L831.6,223.3 L833.3,221.3 L834.9,224.8 L836.6,222.7 L838.2,229.0 L839.9,224.5 L841.5,221.6 L843.2,214.3 L844.8,227.9 L846.5,223.2 L848.1,217.5 L849.8,216.0 L851.4,220.4 L853.1,227.9 L854.7,217.6 L856.4,222.0 L858.0,223.8 L859.7,227.2 L861.3,221.0 L863.0,223.3 L864.6,222.5 L866.3,230.8 L867.9,226.0 L869.6,222.2 L871.2,218.0 L872.9,221.5 L874.5,225.9 L876.2,219.3 L877.8,227.2 L879.5,223.8 L881.1,224.3 L882.8,226.3 L884.4,225.1 L886.1,220.0 L887.7,224.2 L889.4,233.3 L891.0,216.6 L892.7,223.9 L894.3,230.0 L896.0,223.1 L897.6,222.3 L899.3,220.4 L900.9,227.6 L902.6,226.0 L904.2,226.8 L905.9,221.3 L907.5,227.1 L909.2,219.0 L910.8,225.9 L912.5,221.2 L914.1,225.3 L915.8,226.2 L917.4,226.2 L919.1,218.9 L920.7,229.8 L922.4,221.2 L924.0,221.8 L925.7,225.5 L927.3,219.2 L929.0,225.8 L930.6,224.1 L932.3,221.8 L933.9,224.9 L935.6,221.5 L937.2,223.5 L938.9,217.6 L940.5,224.4 L942.2,219.9 L943.8,222.0 L945.5,223.5 L947.1,224.1 L948.8,217.9 L950.4,220.0 L952.1,224.8 L953.7,225.5 L955.4,224.9 L957.0,226.8 L958.7,228.0 L960.3,224.9 L962.0,224.7 L963.6,221.2 L965.3,222.9 L966.9,224.5 L968.6,226.1 L970.2,225.1 L971.9,224.3 L973.5,224.0 L975.2,227.3 L976.8,224.9 L978.5,226.4 L980.1,226.0 L981.8,222.6 L983.4,222.2 L985.1,228.2 L986.7,224.9 L988.4,223.7 L990.0,224.1 L991.7,233.2 L993.3,219.2 L995.0,225.2 L996.6,225.4 L998.3,219.5 L999.9,226.2 L1001.6,230.1" fill="none" stroke="#0068bc" stroke-width="1.9" stroke-linejoin="miter" stroke-miterlimit="4"/>
<line x1="454.0" y1="98.3" x2="549.8" y2="583.8" stroke="#000" stroke-width="3.6" stroke-dasharray="10.7 8.88"/>
<text transform="translate(95.45,175.80) scale(0.4155,0.3615)">PPSU-7</text>
<text transform="translate(95.45,326.00) scale(0.4171,0.3646)">PPSU-6</text>
<text transform="translate(95.46,467.50) scale(0.4135,0.3600)">PPSU-4</text>
<text transform="translate(95.44,612.10) scale(0.4184,0.3585)">PPSU-0</text>
<text transform="translate(468.70,98.30) scale(0.4000,0.3615)">5.43</text>
<text transform="translate(553.47,98.30) scale(0.4271,0.3615)">Å</text>
<text transform="translate(495.63,234.30) scale(0.4110,0.3615)">5.32</text>
<text transform="translate(580.48,234.30) scale(0.4229,0.3615)">Å</text>
<text transform="translate(522.29,376.10) scale(0.4024,0.3591)">5.13</text>
<text transform="translate(607.47,376.10) scale(0.4271,0.3646)">Å</text>
<text transform="translate(548.59,521.60) scale(0.4047,0.3569)">4.90</text>
<text transform="translate(632.57,521.60) scale(0.4314,0.3569)">Å</text>
<text transform="translate(29.68,747.00) scale(0.4908,0.4045)">10</text>
<text transform="translate(346.84,747.00) scale(0.4736,0.4076)">15</text>
<text transform="translate(662.07,747.00) scale(0.5076,0.4108)">20</text>
<text transform="translate(977.57,747.10) scale(0.4837,0.4046)">25</text>
<text transform="translate(433.05,779.90) scale(0.4875,0.3985)">2θ (degree)</text>
<text transform="translate(41.2,476.00) rotate(-90) scale(0.4000,0.4862)">Intensity (a.u.)</text>
</g>
</svg></body></html>
